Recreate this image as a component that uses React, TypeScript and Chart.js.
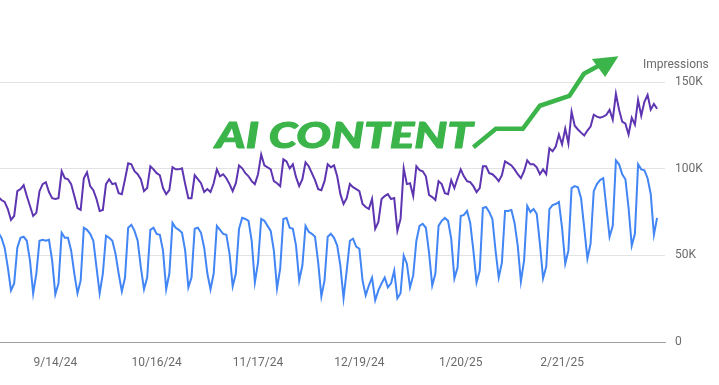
import React, { useEffect, useRef } from "react";
import { Chart, registerables } from "chart.js";

Chart.register(...registerables);

// ---- data (values in thousands) ----
const START_DATE = "8/27/24";
const xTickLabels = ["9/14/24", "10/16/24", "11/17/24", "12/19/24", "1/20/25", "2/21/25"];
const yTickValues = [0, 50, 100, 150];
const yAxisTitle = "Impressions";

// Clicks (blue), one value per day starting 8/27/24
const clicks = [
  63.0, 60.1, 54.4, 43.0, 29.8, 33.8, 54.4, 60.1, 60.7, 58.4,
  47.0, 28.1, 39.5, 58.4, 59.0, 58.4, 59.0, 47.0, 27.5, 33.8,
  63.0, 60.1, 60.1, 52.7, 39.5, 28.1, 35.5, 65.9, 64.7, 62.4,
  58.4, 43.0, 28.1, 39.5, 61.3, 60.1, 58.4, 51.0, 39.5, 29.2,
  37.2, 65.9, 67.6, 64.1, 58.4, 43.0, 30.4, 37.2, 64.7, 65.9,
  62.4, 61.9, 52.7, 30.4, 39.5, 68.7, 65.9, 64.7, 63.0, 52.7,
  31.5, 37.2, 65.3, 65.9, 63.0, 54.4, 39.5, 30.4, 39.5, 67.0,
  64.7, 62.4, 61.9, 51.0, 32.1, 39.5, 65.3, 71.6, 71.0, 69.9,
  58.4, 34.4, 45.8, 71.0, 69.9, 67.0, 64.1, 52.7, 30.9, 42.4,
  71.0, 71.6, 65.9, 65.3, 55.6, 35.5, 44.1, 67.0, 63.6, 62.4,
  60.7, 45.8, 26.3, 35.5, 60.7, 62.4, 60.1, 55.6, 44.1, 25.2,
  41.2, 58.4, 59.6, 55.0, 53.8, 35.5, 26.9, 32.6, 37.2, 24.1,
  29.8, 33.8, 37.2, 31.5, 33.8, 41.2, 25.2, 28.1, 49.8, 45.2,
  31.5, 38.4, 58.4, 67.0, 68.2, 65.9, 51.5, 32.6, 39.5, 67.0,
  69.9, 71.6, 69.9, 59.6, 36.7, 43.0, 72.7, 73.3, 75.6, 68.7,
  52.7, 34.4, 41.2, 77.3, 77.9, 75.0, 71.0, 52.7, 37.2, 45.8,
  75.6, 75.6, 76.2, 68.7, 55.6, 34.9, 47.0, 78.5, 75.0, 76.7,
  73.9, 56.7, 36.7, 43.5, 76.7, 79.0, 79.6, 80.8, 65.9, 45.2,
  52.7, 88.8, 89.9, 89.3, 83.0, 65.9, 48.1, 56.7, 87.0, 91.1,
  93.4, 94.5, 77.3, 60.7, 67.0, 104.8, 102.5, 96.8, 93.9, 77.3,
  55.6, 62.4, 102.5, 99.6, 99.1, 94.5, 85.3, 61.9, 71.6,
];

// Impressions (purple)
const impressions = [
  83.6, 81.9, 80.8, 76.7, 70.4, 72.7, 87.0, 88.2, 90.5, 84.2,
  78.5, 72.7, 74.5, 87.0, 91.1, 92.2, 86.5, 83.0, 82.5, 83.0,
  98.5, 94.5, 93.9, 91.1, 84.2, 77.3, 76.2, 94.5, 97.9, 89.9,
  87.6, 82.5, 75.6, 76.2, 91.1, 93.9, 91.1, 91.6, 85.9, 85.3,
  93.9, 103.1, 102.5, 98.5, 96.8, 93.9, 87.0, 88.8, 101.4, 99.6,
  97.4, 96.2, 88.8, 85.3, 87.6, 100.8, 99.6, 99.6, 100.2, 91.1,
  83.0, 83.0, 96.2, 93.9, 91.6, 86.5, 88.2, 86.5, 91.6, 99.6,
  95.6, 96.8, 94.5, 91.1, 87.0, 91.6, 101.9, 100.2, 97.4, 95.6,
  92.8, 91.1, 96.8, 108.2, 101.9, 100.8, 99.6, 92.8, 91.6, 89.9,
  105.4, 104.2, 100.2, 102.5, 95.1, 89.9, 93.9, 103.7, 101.4, 97.4,
  93.4, 88.2, 87.6, 92.8, 102.5, 100.8, 101.9, 95.6, 85.3, 79.6,
  83.0, 91.1, 89.3, 88.2, 87.0, 79.6, 77.9, 76.7, 82.5, 65.3,
  69.3, 82.5, 84.2, 85.3, 82.5, 83.0, 64.1, 71.0, 100.2, 91.1,
  91.6, 84.2, 101.4, 99.1, 98.5, 95.6, 84.8, 83.6, 81.9, 92.8,
  91.1, 85.9, 85.3, 93.4, 88.8, 94.5, 99.6, 95.6, 92.8, 92.2,
  89.9, 86.5, 88.8, 101.4, 101.4, 97.4, 96.8, 95.1, 92.8, 96.2,
  104.2, 103.1, 101.9, 99.6, 96.8, 94.5, 98.5, 104.8, 102.5, 102.5,
  100.8, 96.8, 99.6, 96.8, 111.7, 110.0, 112.8, 119.7, 114.0, 123.1,
  114.5, 132.9, 124.8, 122.6, 120.8, 119.1, 122.0, 124.3, 131.1, 130.0,
  129.4, 130.0, 131.1, 134.0, 128.3, 143.2, 134.0, 127.1, 126.0, 119.7,
  129.4, 125.4, 139.7, 130.6, 138.6, 142.6, 134.0, 137.4, 134.6,
];

// Annotation, in data coordinates (day index, thousands)
const annotationText = "AI CONTENT";
const annotationSpan = [68.4, 150.0];
const annotationBaseline = 112.2;
const arrowPath = [
  [150.0, 112.3], [157.1, 123.0], [165.6, 123.0], [171.0, 136.3],
  [180.3, 142.0], [184.9, 154.8], [189.4, 159.2],
];
const arrowHead = [[187.4, 163.2], [195.8, 164.9], [191.6, 152.9]];

// ---- helpers ----
function parseDate(s: string): Date {
  const [m, d, y] = s.split("/").map(Number);
  return new Date(2000 + y, m - 1, d);
}
function dayIndex(s: string): number {
  return Math.round((parseDate(s).getTime() - parseDate(START_DATE).getTime()) / 86400000);
}

const GREEN = "#3bb44a";
const LABEL_COLOR = "#6b6b6b";
const FONT = "Roboto, 'Liberation Sans', sans-serif";

const annotationPlugin = {
  id: "aiAnnotation",
  afterDatasetsDraw(chart: any) {
    const { ctx, scales, chartArea } = chart;
    const xs = scales.x;
    const ys = scales.y;
    ctx.save();
    // axis title
    ctx.font = `12px ${FONT}`;
    ctx.fillStyle = LABEL_COLOR;
    ctx.textAlign = "left";
    ctx.textBaseline = "middle";
    ctx.fillText(yAxisTitle, chartArea.right - 22, chartArea.top - 17);

    // arrow line
    ctx.strokeStyle = GREEN;
    ctx.fillStyle = GREEN;
    ctx.lineWidth = 4.5;
    ctx.lineJoin = "miter";
    ctx.lineCap = "butt";
    ctx.beginPath();
    arrowPath.forEach(([x, y], i) => {
      const px = xs.getPixelForValue(x);
      const py = ys.getPixelForValue(y);
      if (i === 0) ctx.moveTo(px, py);
      else ctx.lineTo(px, py);
    });
    ctx.stroke();
    ctx.beginPath();
    arrowHead.forEach(([x, y], i) => {
      const px = xs.getPixelForValue(x);
      const py = ys.getPixelForValue(y);
      if (i === 0) ctx.moveTo(px, py);
      else ctx.lineTo(px, py);
    });
    ctx.closePath();
    ctx.fill();

    // text
    const left = xs.getPixelForValue(annotationSpan[0]);
    const right = xs.getPixelForValue(annotationSpan[1]);
    const base = ys.getPixelForValue(annotationBaseline);
    ctx.font = `italic 900 36px Lato, 'Open Sans', sans-serif`;
    ctx.textAlign = "left";
    ctx.textBaseline = "alphabetic";
    const w = ctx.measureText(annotationText).width;
    ctx.translate(left, base);
    ctx.scale((right - left - 1) / w, 1);
    ctx.lineWidth = 1;
    ctx.lineJoin = "round";
    ctx.strokeText(annotationText, 0.5, 0);
    ctx.fillText(annotationText, 0.5, 0);
    ctx.restore();
  },
};

export default function App() {
  const canvasRef = useRef<HTMLCanvasElement | null>(null);

  useEffect(() => {
    const canvas = canvasRef.current;
    if (!canvas) return;
    const tickIdx = xTickLabels.map(dayIndex);
    const labelAt: Record<number, string> = {};
    tickIdx.forEach((v, i) => (labelAt[v] = xTickLabels[i]));

    const chart = new Chart(canvas, {
      type: "line",
      data: {
        datasets: [
          {
            label: "Clicks",
            data: clicks.map((v, i) => ({ x: i, y: v })),
            borderColor: "#4285f4",
            borderWidth: 2,
            pointRadius: 0,
            tension: 0,
          },
          {
            label: "Impressions",
            data: impressions.map((v, i) => ({ x: i, y: v })),
            borderColor: "#5e35b1",
            borderWidth: 2,
            pointRadius: 0,
            tension: 0,
          },
        ],
      },
      options: {
        responsive: false,
        animation: false,
        devicePixelRatio: 1,
        layout: { padding: { top: 82, left: 0, right: 0, bottom: 0 } },
        plugins: { legend: { display: false }, tooltip: { enabled: false } },
        scales: {
          x: {
            type: "linear",
            min: 0.53,
            max: 210.5,
            grid: { display: false, drawTicks: false },
            border: { display: true, color: "#9e9e9e", width: 1 },
            afterBuildTicks: (scale: any) => {
              scale.ticks = tickIdx.map((v) => ({ value: v }));
            },
            afterFit: (scale: any) => {
              scale.height = 43;
            },
            ticks: {
              autoSkip: false,
              maxRotation: 0,
              padding: 14,
              color: LABEL_COLOR,
              font: { family: FONT, size: 12 },
              callback: (v: any) => labelAt[v] ?? "",
            },
          },
          y: {
            position: "right",
            min: 0,
            max: 150,
            grid: {
              drawTicks: false,
              color: (c: any) => (c.tick && c.tick.value === 0 ? "rgba(0,0,0,0)" : "#e3e3e3"),
            },
            border: { display: false },
            afterBuildTicks: (scale: any) => {
              scale.ticks = yTickValues.map((v) => ({ value: v }));
            },
            afterFit: (scale: any) => {
              scale.width = 54;
            },
            ticks: {
              padding: 10,
              color: LABEL_COLOR,
              font: { family: FONT, size: 12 },
              callback: (v: any) => (v === 0 ? "0" : `${v}K`),
            },
          },
        },
      },
      plugins: [annotationPlugin],
    } as any);
    return () => chart.destroy();
  }, []);

  return (
    <div style={{ position: "absolute", left: 0, top: 0, width: 719, height: 385, background: "#fff" }}>
      <canvas ref={canvasRef} width={719} height={385} style={{ display: "block" }} />
    </div>
  );
}
